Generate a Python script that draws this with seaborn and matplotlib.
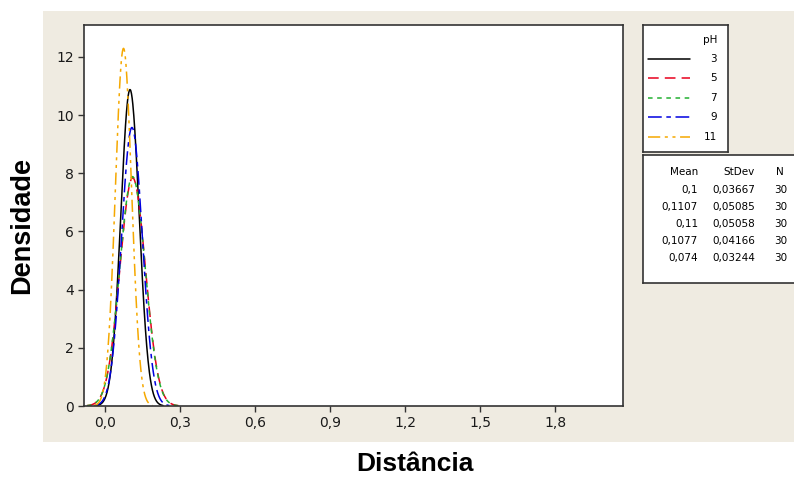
import matplotlib
matplotlib.use("Agg")
import matplotlib.pyplot as plt
from matplotlib.patches import Rectangle
from matplotlib.lines import Line2D
from matplotlib.ticker import FuncFormatter
import numpy as np
import pandas as pd
import seaborn as sns

# fitted normal parameters per pH (from the table in the chart)
ph_levels = ["3", "5", "7", "9", "11"]
means = [0.1, 0.1107, 0.11, 0.1077, 0.074]
stdevs = [0.03667, 0.05085, 0.05058, 0.04166, 0.03244]
n_obs = [30, 30, 30, 30, 30]
mean_labels = ["0,1", "0,1107", "0,11", "0,1077", "0,074"]
stdev_labels = ["0,03667", "0,05085", "0,05058", "0,04166", "0,03244"]

colors = ["#000000", "#e8001c", "#22b030", "#0000e0", "#f5a800"]
styles = ["-", (0, (7, 4)), (0, (3, 3)), (0, (9, 3, 3, 3)), (0, (8, 3, 2, 3, 2, 3))]

sns.set_style("white")
plt.rcParams["font.family"] = ["DejaVu Sans"]
plt.rcParams["text.color"] = "black"

fig = plt.figure(figsize=(7.94, 4.78), dpi=100)
W, H = 794, 478


def fr(x0, y0, x1, y1):
    return [x0 / W, 1 - y1 / H, (x1 - x0) / W, (y1 - y0) / H]


# beige panel
fig.patches.append(Rectangle((43 / W, 1 - 442 / H), 1, (442 - 11) / H,
                             transform=fig.transFigure, facecolor="#efebe1",
                             edgecolor="none", zorder=-10))

ax = fig.add_axes(fr(84, 25, 623, 406))
ax.set_facecolor("white")

rows = []
for ph, m, s in zip(ph_levels, means, stdevs):
    x = np.linspace(m - 3.6 * s, m + 3.6 * s, 200)
    y = np.exp(-0.5 * ((x - m) / s) ** 2) / (s * np.sqrt(2 * np.pi))
    rows.append(pd.DataFrame({"x": x, "y": y, "pH": ph}))
df = pd.concat(rows)

for ph, c, ls in zip(ph_levels, colors, styles):
    sns.lineplot(data=df[df["pH"] == ph], x="x", y="y", color=c,
                 linestyle=ls, linewidth=1.1, ax=ax, legend=False)

ax.set_xlim(-0.084, 2.072)
ax.set_ylim(0, 13.1)
ax.set_xticks([0, 0.3, 0.6, 0.9, 1.2, 1.5, 1.8])
ax.set_yticks([0, 2, 4, 6, 8, 10, 12])
ax.xaxis.set_major_formatter(FuncFormatter(lambda v, p: f"{v:.1f}".replace(".", ",")))
ax.yaxis.set_major_formatter(FuncFormatter(lambda v, p: f"{v:.0f}"))
ax.tick_params(axis="both", direction="out", length=4, width=1, color="#333333",
               labelsize=10, labelcolor="#1a1a1a", left=True, bottom=True)
for sp in ax.spines.values():
    sp.set_color("#333333")
    sp.set_linewidth(1.2)
ax.set_xlabel("")
ax.set_ylabel("")

fig.text(22 / W, 1 - 226 / H, "Densidade", rotation=90, ha="center", va="center",
         fontsize=19.5, fontweight="bold", family=["Liberation Sans"], color="black")
fig.text(415 / W, 1 - 464 / H, "Distância", ha="center", va="center",
         fontsize=19, fontweight="bold", family=["Liberation Sans"], color="black")

# pH legend box
lax = fig.add_axes(fr(643, 25, 728, 152))
lax.set_xlim(0, 85)
lax.set_ylim(127, 0)
lax.set_xticks([])
lax.set_yticks([])
lax.set_facecolor("white")
for sp in lax.spines.values():
    sp.set_color("#333333")
    sp.set_linewidth(1.2)
lax.text(74, 15, "pH", ha="right", va="center", fontsize=7.5)
for i, (ph, c, ls) in enumerate(zip(ph_levels, colors, styles)):
    yy = 34 + i * 19.5
    lax.add_line(Line2D([5, 47], [yy, yy], color=c, linestyle=ls, linewidth=1.1))
    lax.text(74, yy, ph, ha="right", va="center", fontsize=7.5)

# statistics table box
tax = fig.add_axes(fr(643, 155, 800, 283))
tax.set_xlim(0, 157)
tax.set_ylim(128, 0)
tax.set_xticks([])
tax.set_yticks([])
tax.set_facecolor("white")
for sp in tax.spines.values():
    sp.set_color("#333333")
    sp.set_linewidth(1.2)
tax.text(55, 17, "Mean", ha="right", va="center", fontsize=7.5)
tax.text(112, 17, "StDev", ha="right", va="center", fontsize=7.5)
tax.text(141, 17, "N", ha="right", va="center", fontsize=7.5)
for i in range(len(ph_levels)):
    yy = 35 + i * 17
    tax.text(55, yy, mean_labels[i], ha="right", va="center", fontsize=7.5)
    tax.text(112, yy, stdev_labels[i], ha="right", va="center", fontsize=7.5)
    tax.text(144, yy, str(n_obs[i]), ha="right", va="center", fontsize=7.5)

fig.savefig("out.png", dpi=100, facecolor="white")
